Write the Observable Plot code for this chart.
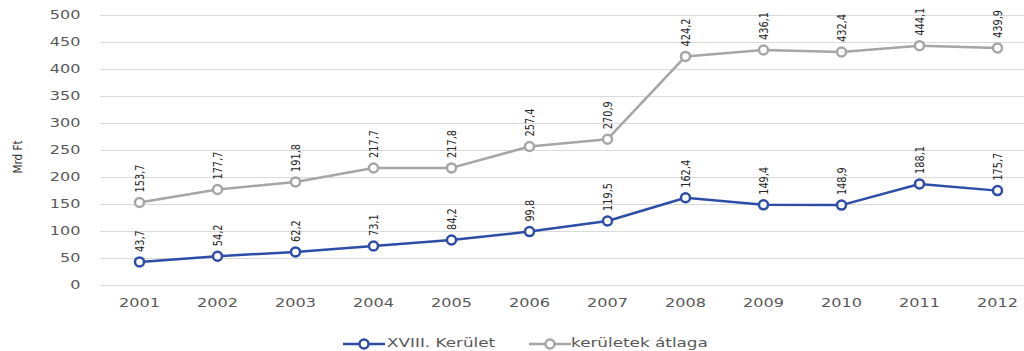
<!DOCTYPE html>
<html>
<head>
<meta charset="utf-8">
<script src="https://cdn.jsdelivr.net/npm/d3@7"></script>
<script src="https://cdn.jsdelivr.net/npm/@observablehq/plot@0.6"></script>
<style>
  html, body { margin: 0; padding: 0; background: #fff; }
  #wrap { position: relative; width: 1024px; height: 351px; overflow: hidden; }
  .leg-mark { position: absolute; top: 337px; }
  .leg-text { position: absolute; top: 335px; font-family: "DejaVu Sans", sans-serif; font-size: 12px;
    color: #595959; white-space: nowrap; transform: scaleX(1.4); transform-origin: left center; line-height: 16px; }
</style>
</head>
<body>
<div id="wrap">
  <div id="chart"></div>
</div>
<script>
const years = ["2001","2002","2003","2004","2005","2006","2007","2008","2009","2010","2011","2012"];
const district = [43.7,54.2,62.2,73.1,84.2,99.8,119.5,162.4,149.4,148.9,188.1,175.7];
const average = [153.7,177.7,191.8,217.7,217.8,257.4,270.9,424.2,436.1,432.4,444.1,439.9];
const yTicks = [0,50,100,150,200,250,300,350,400,450,500];
const seriesNames = ["XVIII. Kerület", "kerületek átlaga"];
const seriesColors = ["#2E4DA7", "#A6A6A6"];

const rows = [];
years.forEach((y, i) => {
  rows.push({year: y, value: district[i], series: seriesNames[0]});
  rows.push({year: y, value: average[i], series: seriesNames[1]});
});
const fmt = v => v.toFixed(1).replace(".", ",");

const chart = Plot.plot({
  width: 1024,
  height: 333,
  marginLeft: 100,
  marginRight: 0,
  marginTop: 15,
  marginBottom: 48,
  style: {fontFamily: "DejaVu Sans, sans-serif", fontSize: "11.5px", color: "#595959", background: "#fff"},
  x: {type: "point", domain: years, range: [139, 997], padding: 0, label: null},
  y: {domain: [0, 500], label: null},
  color: {domain: seriesNames, range: seriesColors},
  marks: [
    Plot.ruleY(yTicks, {stroke: "#D9D9D9", strokeWidth: 1}),
    Plot.axisY({ticks: yTicks, tickSize: 0, tickPadding: 20, label: null, fill: "#595959", fontSize: 11.5}),
    Plot.axisX({tickSize: 0, tickPadding: 13, label: null, fill: "#595959", fontSize: 11.5}),
    Plot.line(rows, {x: "year", y: "value", z: "series", stroke: "series", strokeWidth: 2.5}),
    Plot.dot(rows, {x: "year", y: "value", stroke: "series", fill: "white", r: 4.5, strokeWidth: 2.5}),
    Plot.text(rows, {x: "year", y: "value", text: d => fmt(d.value), rotate: -90,
      textAnchor: "start", dy: -10, fill: "#262626", fontSize: 13,
      fontFamily: "DejaVu Sans, sans-serif"})
  ]
});
document.getElementById("chart").appendChild(chart);

const svg = d3.select(chart);
// horizontally stretched tick labels
svg.selectAll('g[aria-label$="tick label"] text').each(function() {
  const t = this.getAttribute("transform") || "";
  this.setAttribute("transform", t + " scale(1.4,1)");
});
// condensed rotated data labels
svg.selectAll('g[aria-label="text"] text').each(function() {
  const t = this.getAttribute("transform") || "";
  this.setAttribute("transform", t + " scale(0.75,1)");
});

// y-axis title
svg.append("text")
  .attr("transform", "translate(22,157) rotate(-90) scale(0.8,1)")
  .attr("text-anchor", "middle")
  .attr("font-family", "DejaVu Sans, sans-serif")
  .attr("font-size", 13)
  .attr("fill", "#333")
  .text("Mrd Ft");

// legend
const wrap = d3.select("#wrap");
const legPos = [{mark: 343, text: 387}, {mark: 529, text: 571}];
seriesNames.forEach((name, i) => {
  const s = wrap.append("svg").attr("class", "leg-mark")
    .style("left", legPos[i].mark + "px").attr("width", 42).attr("height", 14);
  s.append("line").attr("x1", 0).attr("x2", 42).attr("y1", 7).attr("y2", 7)
    .attr("stroke", seriesColors[i]).attr("stroke-width", 2.5);
  s.append("circle").attr("cx", 21).attr("cy", 7).attr("r", 4.5)
    .attr("fill", "white").attr("stroke", seriesColors[i]).attr("stroke-width", 2.5);
  wrap.append("div").attr("class", "leg-text").style("left", legPos[i].text + "px").text(name);
});
</script>
</body>
</html>
